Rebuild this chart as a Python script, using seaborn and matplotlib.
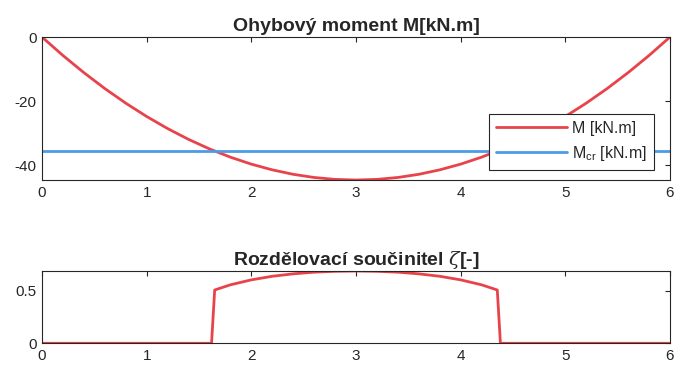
import numpy as np
import pandas as pd
import matplotlib
matplotlib.use("Agg")
import matplotlib.pyplot as plt
import seaborn as sns

# Bending moment along the beam [kN.m]
x_m = [0.0, 0.2, 0.4, 0.6, 0.8, 1.0, 1.2, 1.4, 1.6, 1.8, 2.0, 2.2, 2.4, 2.6, 2.8, 3.0,
       3.2, 3.4, 3.6, 3.8, 4.0, 4.2, 4.4, 4.6, 4.8, 5.0, 5.2, 5.4, 5.6, 5.8, 6.0]
moment = [0.0, -5.75, -11.10, -16.06, -20.62, -24.78, -28.55, -31.92, -34.89, -37.47, -39.65,
          -41.43, -42.82, -43.81, -44.41, -44.60,
          -44.41, -43.81, -42.82, -41.43, -39.65, -37.47, -34.89, -31.92, -28.55, -24.78,
          -20.62, -16.06, -11.10, -5.75, 0.0]

# Cracking moment [kN.m]
x_cr = [0.0, 6.0]
m_cr = [-35.4, -35.4]

# Distribution coefficient zeta [-]
x_zeta = [0.0, 1.62, 1.65, 1.8, 2.0, 2.2, 2.4, 2.6, 2.8, 3.0, 3.2, 3.4, 3.6, 3.8, 4.0, 4.2,
          4.35, 4.38, 6.0]
zeta = [0.0, 0.0, 0.505, 0.554, 0.601, 0.635, 0.658, 0.674, 0.682, 0.685, 0.682, 0.674,
        0.658, 0.635, 0.601, 0.554, 0.505, 0.0, 0.0]

df_m = pd.DataFrame({"x": x_m, "M": moment})
df_cr = pd.DataFrame({"x": x_cr, "Mcr": m_cr})
df_z = pd.DataFrame({"x": x_zeta, "zeta": zeta})

sns.set_style("white")
plt.rcParams["font.family"] = ["Liberation Sans", "DejaVu Sans"]
plt.rcParams["axes.unicode_minus"] = False
plt.rcParams["mathtext.fontset"] = "custom"
plt.rcParams["mathtext.rm"] = "Liberation Sans"
plt.rcParams["mathtext.it"] = "DejaVu Serif:italic"

RED = "#E8434B"
BLUE = "#4D9BE6"
TXT = "#262626"

fig = plt.figure(figsize=(6.76, 3.67), dpi=100)
ax1 = fig.add_axes([0.0621, 0.5095, 0.929, 0.3896])
ax2 = fig.add_axes([0.0621, 0.0646, 0.929, 0.197])

sns.lineplot(data=df_m, x="x", y="M", ax=ax1, color=RED, lw=2.0, sort=False,
             estimator=None, label="M [kN.m]")
sns.lineplot(data=df_cr, x="x", y="Mcr", ax=ax1, color=BLUE, lw=2.0, sort=False,
             estimator=None, label=r"M$_{\mathregular{cr}}$ [kN.m]")
sns.lineplot(data=df_z, x="x", y="zeta", ax=ax2, color=RED, lw=2.0, sort=False,
             estimator=None)

ax1.set_xlim(0, 6)
ax1.set_ylim(min(moment), 0)
ax1.set_yticks([-40, -20, 0])
ax2.set_xlim(0, 6)
ax2.set_ylim(0, max(zeta))
ax2.set_yticks([0, 0.5])
ax2.set_yticklabels(["0", "0.5"])

for ax in (ax1, ax2):
    ax.set_xticks(range(0, 7))
    ax.set_xlabel("")
    ax.set_ylabel("")
    ax.tick_params(direction="in", length=3.5, width=0.8, top=True, right=True,
                   labelsize=11, colors=TXT, pad=4)
    for sp in ax.spines.values():
        sp.set_visible(True)
        sp.set_color(TXT)
        sp.set_linewidth(0.8)

ax1.set_title("Ohybový moment M[kN.m]", fontsize=14, fontweight="bold", color=TXT, pad=4)
ax2.set_title(r"Rozdělovací součinitel $\zeta$[-]", fontsize=14, fontweight="bold",
              color=TXT, pad=4)

leg = ax1.legend(loc="lower right", bbox_to_anchor=(0.975, 0.07), fontsize=11.5,
                 frameon=True, fancybox=False, framealpha=1, edgecolor=TXT,
                 handlelength=4.4, borderpad=0.45, labelspacing=0.5,
                 handletextpad=0.35, borderaxespad=0)
leg.get_frame().set_linewidth(0.8)
for t in leg.get_texts():
    t.set_color(TXT)

fig.savefig("out.png", dpi=100)
